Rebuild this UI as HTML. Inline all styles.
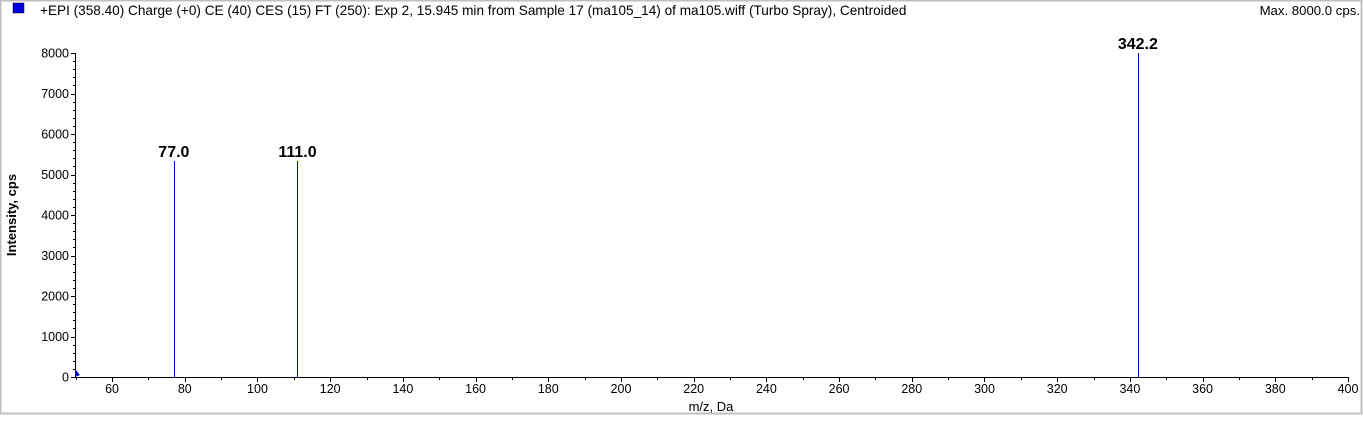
<!DOCTYPE html>
<html><head><meta charset="utf-8"><style>
html,body{margin:0;padding:0;background:#fff}
body{width:1363px;height:416px;overflow:hidden;position:relative;font-family:"Liberation Sans",Arial,sans-serif}
svg text{font-family:"Liberation Sans",Arial,sans-serif}
</style></head><body>
<svg id="chart" width="1363" height="416" xmlns="http://www.w3.org/2000/svg">
<rect x="0" y="0" width="1363" height="416" fill="#fff"/>
<rect x="0.5" y="0.5" width="1361" height="413" fill="none" stroke="#c0c0c0" stroke-width="2"/>
<rect x="13" y="3" width="11" height="10" fill="#0000e0" stroke="#000" stroke-width="0.5"/>
<text x="40" y="15" font-size="13.6" fill="#000">+EPI (358.40) Charge (+0) CE (40) CES (15) FT (250): Exp 2, 15.945 min from Sample 17 (ma105_14) of ma105.wiff (Turbo Spray), Centroided</text>
<text x="1360" y="15" font-size="13.2" text-anchor="end" fill="#000">Max. 8000.0 cps.</text>
<text transform="translate(16,215) rotate(-90)" font-size="13" font-weight="bold" text-anchor="middle" fill="#000">Intensity, cps</text>
<text x="711" y="411" font-size="13" text-anchor="middle" fill="#000">m/z, Da</text>
<g id="axes"></g>
<g id="marks"></g>
</svg>
<script>
const peakMz = [77.0, 111.0, 342.2];
const peakIntensity = [5330, 5330, 8000];
const peakLabels = ["77.0", "111.0", "342.2"];
const xTicks = [60,80,100,120,140,160,180,200,220,240,260,280,300,320,340,360,380,400];
const yTicks = [0,1000,2000,3000,4000,5000,6000,7000,8000];

const X0=75, X1=1348, xMin=49.8, xMax=400;
const Y0=377, Y1=53, yMax=8000;
const sx=v=>X0+(v-xMin)/(xMax-xMin)*(X1-X0);
const sy=v=>Y0-(v/yMax)*(Y0-Y1);
const NS="http://www.w3.org/2000/svg";
const axes=document.getElementById('axes'), marks=document.getElementById('marks');
function mk(tag,attrs,parent){const e=document.createElementNS(NS,tag);for(const k in attrs)e.setAttribute(k,attrs[k]);parent.appendChild(e);return e;}

let xa=mk('line',{x1:X0,y1:Y0+0.5,x2:X1+1,y2:Y0+0.5,stroke:'#000','stroke-width':1},axes);


let ya=mk('line',{x1:X0+0.5,y1:Y1,x2:X0+0.5,y2:Y0+1,stroke:'#000','stroke-width':1},axes);



xTicks.forEach(t=>{
  const x=Math.round(sx(t))+0.5;
  let l=mk('line',{x1:x,y1:Y0,x2:x,y2:Y0+5,stroke:'#000'},axes);
  
  
  const xm=Math.round(sx(t-10))+0.5;
  if(sx(t-10)>X0){let m=mk('line',{x1:xm,y1:Y0,x2:xm,y2:Y0+3,stroke:'#000'},axes);
  
  }
  let tx=mk('text',{x:sx(t),y:Y0+16,'font-size':12.5,'text-anchor':'middle',fill:'#000'},axes);
  tx.textContent=t;
  
  
});
yTicks.forEach(t=>{
  const y=Math.round(sy(t))+0.5;
  let l=mk('line',{x1:X0-4,y1:y,x2:X0,y2:y,stroke:'#000'},axes);
  
  
  if(t<yMax){for(let k=1;k<5;k++){const ym=Math.round(sy(t+k*200))+0.5;
    let m=mk('line',{x1:X0-2,y1:ym,x2:X0,y2:ym,stroke:'#000'},axes);
    
    }}
  let tx=mk('text',{x:X0-6,y:sy(t)+4.5,'font-size':12.5,'text-anchor':'end',fill:'#000'},axes);
  tx.textContent=t;
  
  
});
let arr=mk('polygon',{points:`${X0},${Y0-8} ${X0+5},${Y0-2} ${X0},${Y0}`,fill:'#0000c0'},axes);



peakMz.forEach((mz,i)=>{
  const x=Math.round(sx(mz))+0.5;
  let l=mk('line',{x1:x,y1:sy(peakIntensity[i]),x2:x,y2:Y0,stroke:'#0000c8','stroke-width':1,'shape-rendering':'crispEdges'},marks);
  
  
  let tx=mk('text',{x:sx(mz),y:sy(peakIntensity[i])-4,'font-size':16,'font-weight':'bold','text-anchor':'middle',fill:'#000'},marks);
  tx.textContent=peakLabels[i];
  
  
});
</script>
</body></html>
